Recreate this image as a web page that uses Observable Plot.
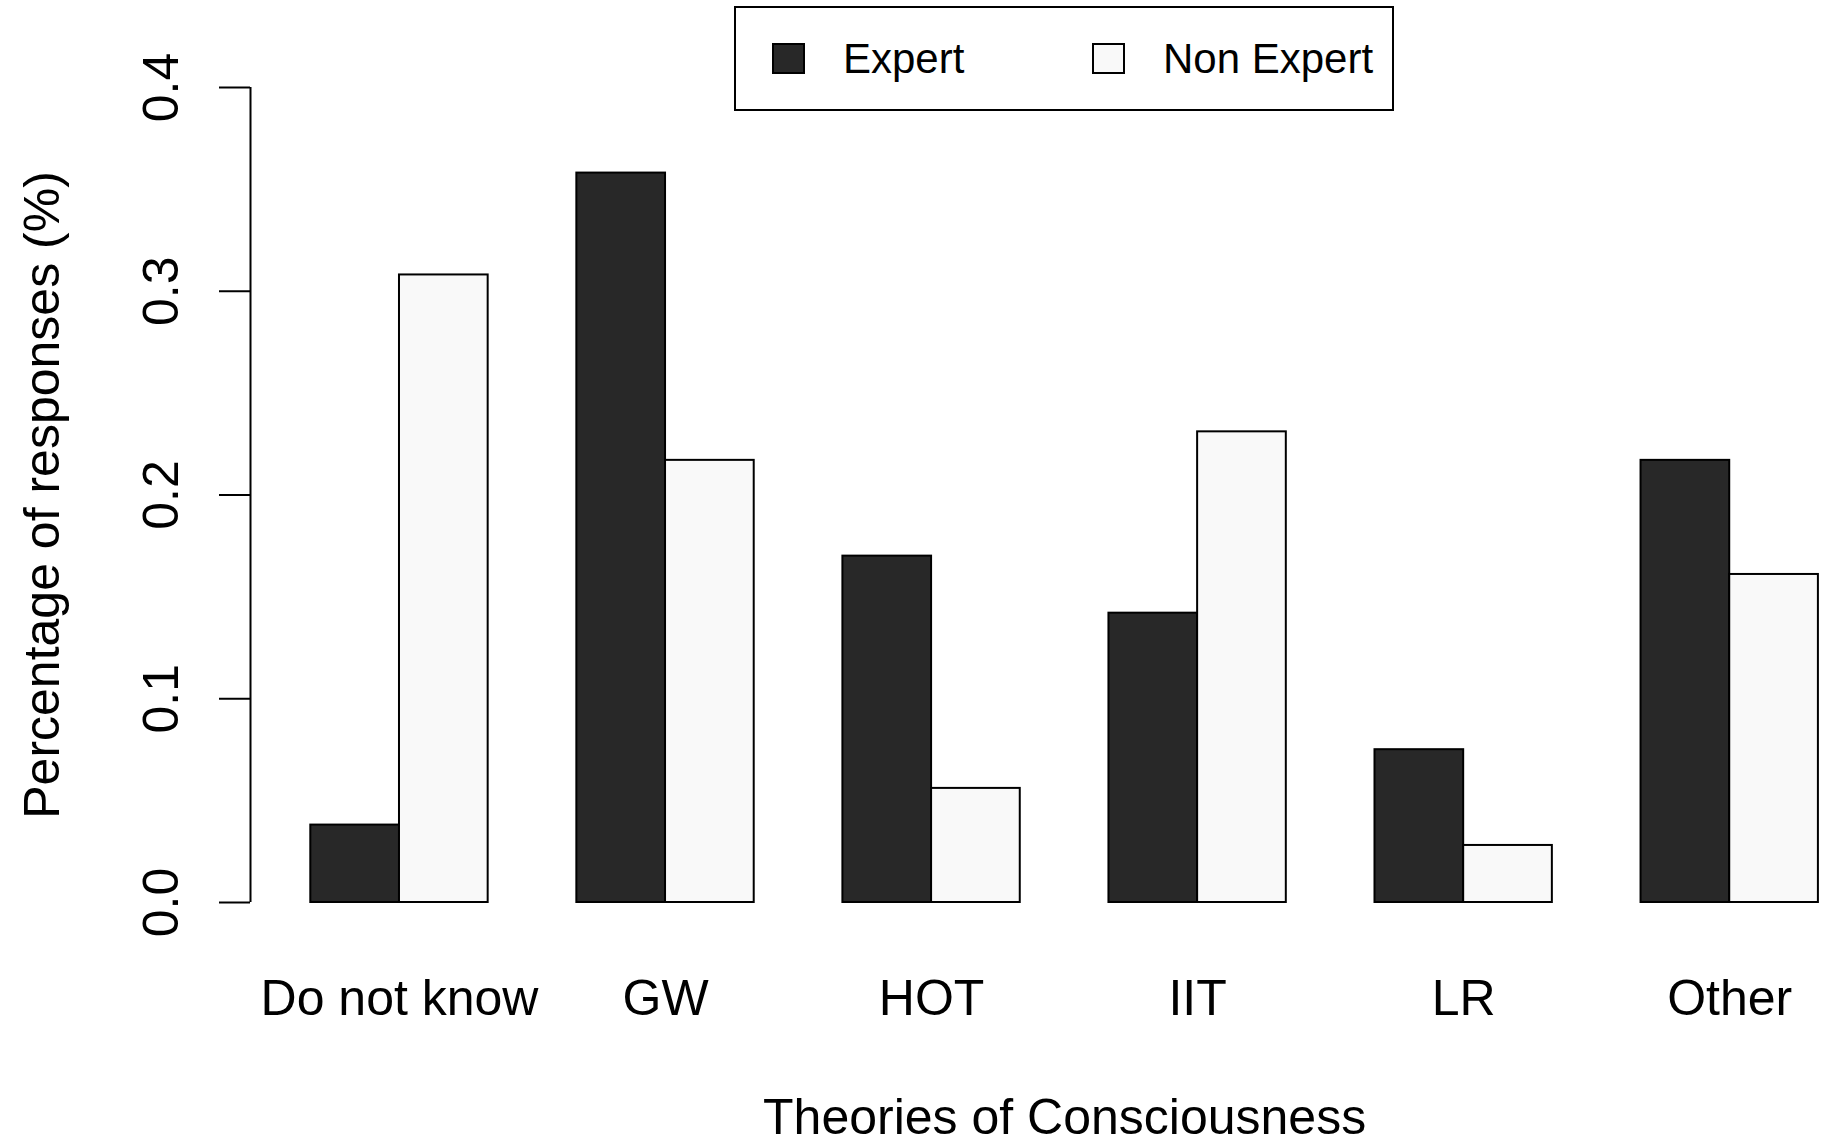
<!DOCTYPE html>
<html>
<head>
<meta charset="utf-8">
<script src="https://cdn.jsdelivr.net/npm/d3@7"></script>
<script src="https://cdn.jsdelivr.net/npm/@observablehq/plot@0.6"></script>
<style>
  html, body { margin: 0; padding: 0; background: #fff; }
  #wrap { position: relative; width: 1825px; height: 1144px; font-family: "Liberation Sans", Arial, Helvetica, sans-serif; }
  #legend { position: absolute; left: 734px; top: 6px; width: 656px; height: 101px; border: 2px solid #000; background: #fff; box-sizing: content-box; }
  .lg-item { position: absolute; top: 0; height: 101px; display: flex; align-items: center; font-size: 42px; color: #000; }
  .lg-sw { width: 29px; height: 27px; border: 2px solid #000; box-sizing: content-box; margin-right: 38px; }
</style>
</head>
<body>
<div id="wrap"></div>
<script>
// ---- data ----
const categories = ["Do not know", "GW", "HOT", "IIT", "LR", "Other"];
const seriesNames = ["Expert", "Non Expert"];
const expert = [0.038, 0.358, 0.170, 0.142, 0.075, 0.217];
const nonExpert = [0.308, 0.217, 0.056, 0.231, 0.028, 0.161];
const yTicks = [0, 0.1, 0.2, 0.3, 0.4];
const yTickLabels = ["0.0", "0.1", "0.2", "0.3", "0.4"];
const seriesColors = ["#282828", "#f9f9f9"];
const xTitle = "Theories of Consciousness";
const yTitle = "Percentage of responses (%)";

// R barplot(beside=TRUE) layout: space 1 before each group, bar width 1
const rows = [];
categories.forEach((c, i) => {
  [expert[i], nonExpert[i]].forEach((v, j) => {
    const x1 = i * 3 + 1 + j;
    rows.push({category: c, series: seriesNames[j], value: v, x1, x2: x1 + 1});
  });
});
const centers = categories.map((c, i) => ({category: c, x: i * 3 + 2}));
const xMin = 0.32;              // R's 4% extension of [1, 18]
const xMidFull = (0.32 + 18.68) / 2;

const font = "\"Liberation Sans\", Arial, Helvetica, sans-serif";

const chart = Plot.plot({
  width: 1825,
  height: 1144,
  marginLeft: 250,
  marginRight: 0,
  marginTop: 87,
  marginBottom: 242,
  style: {fontFamily: font, fontSize: "50px", background: "#fff", overflow: "visible"},
  x: {domain: [xMin, 18.08], axis: null},
  y: {domain: [0, 0.4], axis: null},
  color: {domain: seriesNames, range: seriesColors},
  marks: [
    Plot.rectY(rows, {x1: "x1", x2: "x2", y1: 0, y2: "value", fill: "series", stroke: "#000", strokeWidth: 2}),
    // y axis line and ticks
    Plot.ruleX([xMin], {y1: 0, y2: 0.4, stroke: "#000", strokeWidth: 2}),
    Plot.axisY({ticks: yTicks, tickSize: 31, tickFormat: () => "", strokeWidth: 2, stroke: "#000", label: null}),
    Plot.text(yTicks, {x: xMin, y: d => d, text: (d, i) => yTickLabels[i], rotate: -90, dx: -73,
      lineAnchor: "bottom", textAnchor: "middle", fontSize: 50, fill: "#000"}),
    // category labels
    Plot.text(centers, {x: "x", y: 0, text: "category", dy: 112, lineAnchor: "bottom",
      textAnchor: "middle", fontSize: 50, fill: "#000"}),
    // axis titles
    Plot.text([xTitle], {x: xMidFull, y: 0, text: d => d, dy: 231, lineAnchor: "bottom",
      textAnchor: "middle", fontSize: 50, fill: "#000"}),
    Plot.text([yTitle], {x: xMin, y: 0.2, text: d => d, rotate: -90, dx: -192, lineAnchor: "bottom",
      textAnchor: "middle", fontSize: 50, fill: "#000"})
  ]
});

const wrap = document.getElementById("wrap");
wrap.appendChild(chart);

// legend (R-style boxed legend at top)
const legend = document.createElement("div");
legend.id = "legend";
const lgLefts = [36, 356];
seriesNames.forEach((s, i) => {
  const item = document.createElement("div");
  item.className = "lg-item";
  item.style.left = lgLefts[i] + "px";
  const sw = document.createElement("div");
  sw.className = "lg-sw";
  sw.style.background = seriesColors[i];
  const tx = document.createElement("span");
  tx.textContent = s;
  item.appendChild(sw);
  item.appendChild(tx);
  legend.appendChild(item);
});
wrap.appendChild(legend);
</script>
</body>
</html>
